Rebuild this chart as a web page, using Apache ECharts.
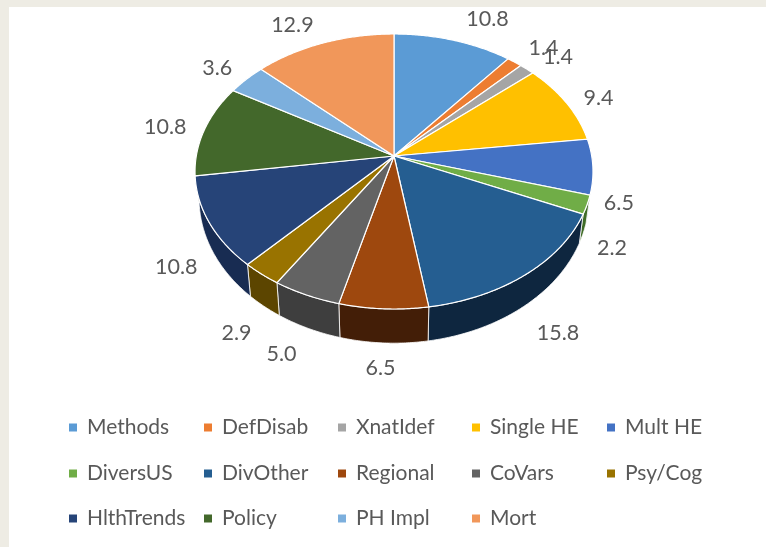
<!DOCTYPE html>
<html>
<head>
<meta charset="utf-8">
<style>
  html, body { margin: 0; padding: 0; background: #fff; }
  #chart { width: 766px; height: 547px; }
</style>
<script src="https://cdn.jsdelivr.net/npm/echarts@6/dist/echarts.min.js"></script>
</head>
<body>
<div id="chart"></div>
<script>
const categories = ['Methods', 'DefDisab', 'XnatIdef', 'Single HE', 'Mult HE', 'DiversUS', 'DivOther',
    'Regional', 'CoVars', 'Psy/Cog', 'HlthTrends', 'Policy', 'PH Impl', 'Mort'];
const values = [10.8, 1.4, 1.4, 9.4, 6.5, 2.2, 15.8, 6.5, 5.0, 2.9, 10.8, 10.8, 3.6, 12.9];

// Office palette, top faces then the darker outer wall
const topColors = ['#5B9BD5', '#ED7D31', '#A5A5A5', '#FFC000', '#4472C4', '#70AD47', '#255E91',
    '#9E480E', '#636363', '#997300', '#264478', '#43682B', '#7CAFDD', '#F1975A'];
const wallColors = ['#37618A', '#8F4B1D', '#636363', '#997300', '#294476', '#3F6B27', '#0E263F',
    '#431E07', '#3E3E3E', '#5C4500', '#182C52', '#283E1A', '#4A6985', '#915A36'];

// Where each value label sits relative to the rim point of its slice
const labelNudge = [[34, -21], [29, -14], [31, -12], [32, -5], [26, 36], [25, 43], [32, 59],
    [-3, 59], [-25, 59], [-25, 59], [-33, 44], [-39, -3], [-29, -11], [-31, -18]];

const legendCols = [69, 204, 338, 472, 607];
const legendRows = [417, 463, 508];

// Perspective of the tilted disc
const cx = 394;
const topFace = { y0: 156, a: 197.7, b: 135.75 };
const bottomFace = { y0: 182, a: 193.7, b: 143 };
const persp = 0.1127;

const total = values.reduce((s, v) => s + v, 0);
const startFrac = [];
values.reduce((s, v, i) => { startFrac[i] = s / total; return s + v; }, 0);

function project(face, deg) {
    const rad = deg * Math.PI / 180;
    const w = 1 + persp * Math.cos(rad);
    return [cx + face.a * Math.sin(rad) / w, face.y0 - face.b * Math.cos(rad) / w];
}

function arc(face, from, to) {
    const pts = [];
    const steps = Math.max(2, Math.ceil((to - from) * 2));
    for (let s = 0; s <= steps; s++) {
        pts.push(project(face, from + (to - from) * s / steps));
    }
    return pts;
}

function sliceRange(i, v) {
    const from = startFrac[i] * 360;
    return [from, from + v / total * 360];
}

function renderTop(params, api) {
    const i = params.seriesIndex - 1;
    const [from, to] = sliceRange(i, api.value(0));
    const rim = project(topFace, (from + to) / 2);
    return {
        type: 'group',
        children: [
            {
                type: 'polygon',
                shape: { points: [[cx, topFace.y0]].concat(arc(topFace, from, to)) },
                style: { fill: topColors[i], stroke: '#fff', lineWidth: 1.2 }
            },
            {
                type: 'text',
                x: rim[0] + labelNudge[i][0],
                y: rim[1] + labelNudge[i][1],
                style: {
                    text: api.value(0).toFixed(1),
                    fill: '#595959',
                    font: '21.5px Lato',
                    align: 'center',
                    verticalAlign: 'middle'
                }
            }
        ]
    };
}

function renderWall(params, api) {
    const i = params.dataIndex;
    const [from, to] = sliceRange(i, api.value(0));
    // the far half is hidden behind the top face
    const a = Math.max(from, 90);
    const b = Math.min(to, 270);
    if (b <= a) return null;
    return {
        type: 'polygon',
        shape: { points: arc(topFace, a, b).concat(arc(bottomFace, a, b).reverse()) },
        style: { fill: wallColors[i], stroke: '#fff', lineWidth: 0.8 }
    };
}

const myChart = echarts.init(document.getElementById('chart'));

const series = [{
    type: 'custom',
    coordinateSystem: 'none',
    renderItem: renderWall,
    data: values.map(v => [v]),
    z: 2,
    silent: true
}].concat(categories.map((name, i) => ({
    type: 'custom',
    name: name,
    coordinateSystem: 'none',
    renderItem: renderTop,
    itemStyle: { color: topColors[i] },
    data: [[values[i]]],
    z: 3
})));

const legend = categories.map((name, i) => ({
    data: [name],
    orient: 'horizontal',
    left: legendCols[i % 5],
    top: legendRows[Math.floor(i / 5)],
    padding: 0,
    icon: 'rect',
    itemWidth: 8,
    itemHeight: 8,
    selectedMode: false,
    textStyle: { color: '#595959', fontFamily: 'Lato', fontSize: 21, padding: [0, 0, 0, 5] }
}));

const option = {
    backgroundColor: '#fff',
    animation: false,
    tooltip: { show: false },
    legend: legend,
    graphic: [
        { type: 'rect', shape: { x: 0, y: 0, width: 766, height: 7 }, style: { fill: '#EEECE4' } },
        { type: 'rect', shape: { x: 0, y: 0, width: 9, height: 547 }, style: { fill: '#EEECE4' } }
    ],
    series: series
};

myChart.setOption(option);

window.addEventListener('resize', () => {
    myChart.resize();
});
</script>
</body>
</html>
